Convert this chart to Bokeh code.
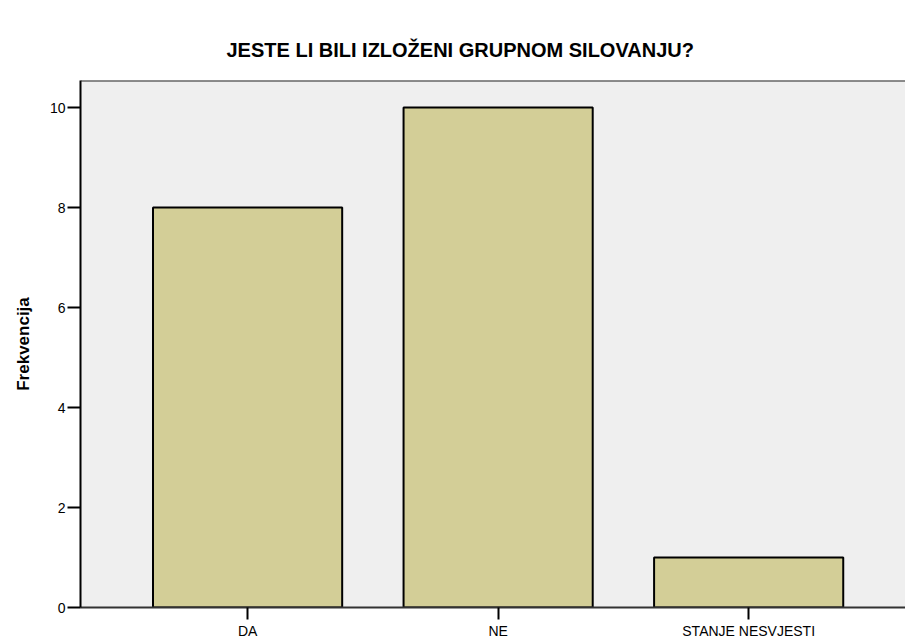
from bokeh.plotting import figure
from bokeh.models import Range1d, FixedTicker, ColumnDataSource, Span
from bokeh.embed import file_html
from bokeh.resources import INLINE

title_text = "JESTE LI BILI IZLOŽENI GRUPNOM SILOVANJU?"
y_label = "Frekvencija"
categories = ["DA", "NE", "STANJE NESVJESTI"]
counts = [8, 10, 1]
y_ticks = [0, 2, 4, 6, 8, 10]

positions = [i + 1 for i in range(len(categories))]
source = ColumnDataSource(data=dict(x=positions, top=counts, cat=categories))

FONT = "Liberation Sans"
Y_TOP = 10.54

p = figure(width=905, height=641, output_backend="svg", toolbar_location=None,
           x_range=Range1d(0.333, 3.626), y_range=Range1d(0, Y_TOP),
           min_border_left=80, min_border_right=0, min_border_top=80,
           min_border_bottom=33)

p.background_fill_color = "#efefef"
p.border_fill_color = "white"
p.outline_line_color = None
p.grid.visible = False

p.vbar(x="x", top="top", width=0.755, bottom=0, source=source,
       fill_color="#d3ce97", line_color="black", line_width=2)

# top frame line (no right-hand border in the reference)
p.add_layout(Span(location=Y_TOP, dimension="width", line_color="#222222",
                  line_width=2))

# title
p.title.text = title_text
p.title.text_font = FONT
p.title.text_font_size = "20px"
p.title.text_font_style = "bold"
p.title.text_color = "black"
p.title.align = "left"
p.title.offset = 146
p.title.standoff = 39

# y axis
ya = p.yaxis[0]
ya.ticker = FixedTicker(ticks=y_ticks)
ya.axis_line_color = "black"
ya.axis_line_width = 2
ya.major_tick_line_color = "black"
ya.major_tick_line_width = 2
ya.major_tick_out = 13
ya.major_tick_in = 0
ya.minor_tick_line_color = None
ya.major_label_text_font = FONT
ya.major_label_text_font_size = "14px"
ya.major_label_text_color = "black"
ya.major_label_standoff = 2
ya.axis_label = y_label
ya.axis_label_text_font = FONT
ya.axis_label_text_font_size = "17px"
ya.axis_label_text_font_style = "bold"
ya.axis_label_text_color = "black"
ya.axis_label_standoff = 14

# x axis
xa = p.xaxis[0]
xa.ticker = FixedTicker(ticks=positions)
xa.major_label_overrides = {pos: cat for pos, cat in zip(positions, categories)}
xa.axis_line_color = "#333333"
xa.axis_line_width = 2
xa.major_tick_line_color = "black"
xa.major_tick_line_width = 2
xa.major_tick_out = 12
xa.major_tick_in = 0
xa.minor_tick_line_color = None
xa.major_label_text_font = FONT
xa.major_label_text_font_size = "14px"
xa.major_label_text_color = "black"
xa.major_label_standoff = 3

open("out.html", "w").write(file_html(p, INLINE))
